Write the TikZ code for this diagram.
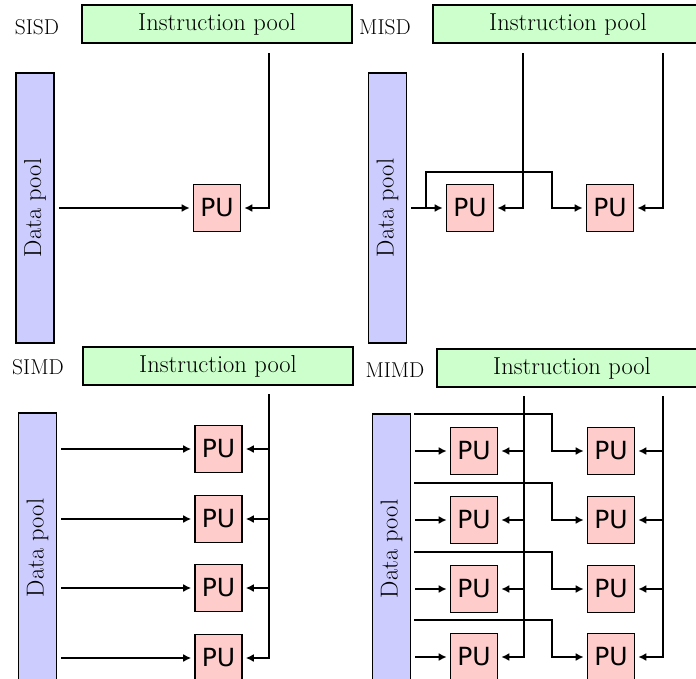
\documentclass[tikz,border=0pt]{standalone}
\usepackage{fontspec}
\usepackage{tikz}
\usetikzlibrary{arrows.meta}
\newfontfamily\pufont{DejaVu Sans}

\tikzset{
  >={Latex[length=8pt,width=8pt]},
  instr/.style={draw,line width=1.6pt,fill=green!20,minimum width=270pt,
    minimum height=38pt,font=\fontsize{24.5}{28}\selectfont},
  datap/.style={draw,line width=1.6pt,fill=blue!20,minimum width=38pt,
    minimum height=270pt,inner sep=0pt,font=\fontsize{24.5}{28}\selectfont},
  pu/.style={draw,line width=1.6pt,fill=red!20,minimum size=47pt,inner sep=0pt,
    font=\pufont\fontsize{25}{30}\selectfont},
  kind/.style={font=\fontsize{21.5}{25}\selectfont},
  arr/.style={->,shorten >=3pt},
  darr/.style={->,shorten <=4pt,shorten >=3pt},
}

\begin{document}
\begin{tikzpicture}[x=1pt,y=-1pt,line width=1.6pt]
  \useasboundingbox (0,0) rectangle (696,678);
  \clip (0,0) rectangle (696,678);

  %% SISD
  \node[kind] (sisd) at (37,27) {SISD};
  \node[instr] (ip1) at (217,24) {Instruction pool};
  \node[datap] (dp1) at (35,208) {\rotatebox{90}{Data pool}};
  \node[pu] (pu1) at (217,208) {PU};
  \coordinate (i1) at (269,53);

  \draw[arr] (i1) |- (pu1.east);
  \draw[darr] (dp1.east) -- (pu1.west);

  %% MISD
  \node[kind] (misd) at (385,27) {MISD};
  \node[instr] (ip2) at (568,24) {Instruction pool};
  \node[datap] (dp2) at (387.5,208) {\rotatebox{90}{Data pool}};
  \node[pu] (pu2a) at (470,208) {PU};
  \node[pu] (pu2b) at (610,208) {PU};
  \coordinate (i2a) at (523,53);
  \coordinate (i2b) at (663,53);
  \coordinate (d2) at (426,208);

  \draw[arr] (i2a) |- (pu2a.east);
  \draw[arr] (i2b) |- (pu2b.east);
  \draw[darr] (dp2.east) -- (pu2a.west);
  \draw[arr] (d2) |- ++(126,-36) |- (pu2b.west);

  %% SIMD
  \node[kind] (simd) at (38,367) {SIMD};
  \node[instr] (ip3) at (218,366) {Instruction pool};
  \node[datap] (dp3) at (37.5,548) {\rotatebox{90}{Data pool}};
  \coordinate (i3) at (269,394);
  \foreach \i/\y in {1/449,2/519,3/588,4/658} {
    \node[pu] (pu3\i) at (218.5,\y) {PU};
    \draw[arr] (i3) |- (pu3\i.east);
    \draw[darr] (dp3.east |- pu3\i.west) -- (pu3\i.west);
  }

  %% MIMD
  \node[kind] (mimd) at (395,370) {MIMD};
  \node[instr] (ip4) at (572,368) {Instruction pool};
  \node[datap] (dp4) at (391.5,549) {\rotatebox{90}{Data pool}};
  \coordinate (i4a) at (524,396);
  \coordinate (i4b) at (663,396);
  \foreach \i/\y in {1/451,2/520,3/589,4/657} {
    \node[pu] (pu4a\i) at (474,\y) {PU};
    \node[pu] (pu4b\i) at (611,\y) {PU};
    \coordinate (d4\i) at (414,\y-37);
    \draw[arr] (i4a) |- (pu4a\i.east);
    \draw[arr] (i4b) |- (pu4b\i.east);
    \draw[darr] (dp4.east |- pu4a\i.west) -- (pu4a\i.west);
    \draw[arr] (d4\i) -| ([xshift=-35pt]pu4b\i.west) -- (pu4b\i.west);
  }
\end{tikzpicture}
\end{document}
